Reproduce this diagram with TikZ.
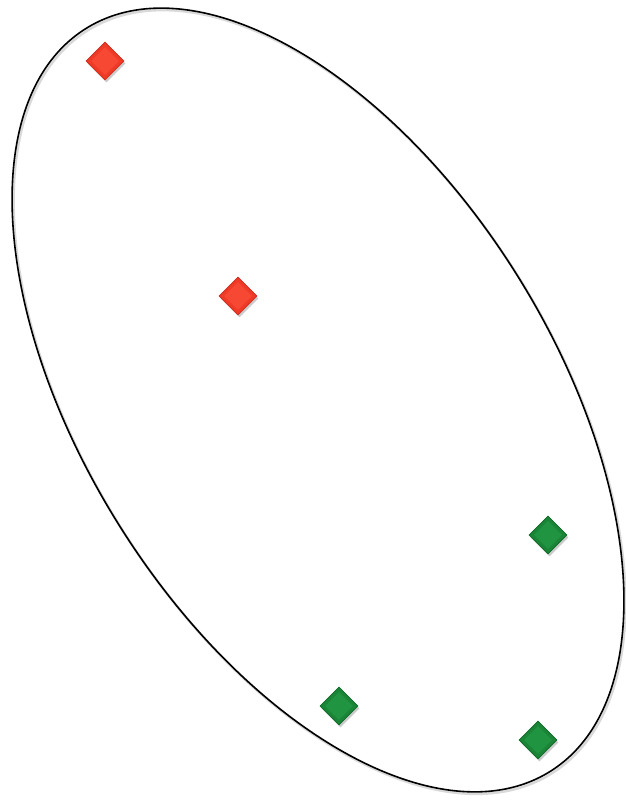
\documentclass[tikz,border=0pt]{standalone}
\usetikzlibrary{shapes.geometric,shadows}
\definecolor{redfill}{RGB}{238,58,38}
\definecolor{redlight}{RGB}{246,72,50}
\definecolor{rededge}{RGB}{205,45,28}
\definecolor{greenfill}{RGB}{26,132,55}
\definecolor{greenlight}{RGB}{32,148,64}
\definecolor{greenedge}{RGB}{15,105,40}
\tikzset{
  gem/.style={diamond, aspect=1, minimum size=38pt, inner sep=0pt, line width=0.8pt,
    drop shadow={shadow xshift=1.5pt, shadow yshift=-2.5pt, opacity=0.35, fill=black!60}},
  redgem/.style={gem, fill=redfill, draw=rededge},
  greengem/.style={gem, fill=greenfill, draw=greenedge},
  redcore/.style={diamond, aspect=1, minimum size=28pt, inner sep=0pt, fill=redlight},
  greencore/.style={diamond, aspect=1, minimum size=28pt, inner sep=0pt, fill=greenlight},
  ring/.style={line width=1.6pt, draw=black}
}
\begin{document}
\begin{tikzpicture}[x=1pt,y=1pt]
\useasboundingbox (0,0) rectangle (625,800);
% ellipse with faint shadow
\coordinate (c) at (318,400);
\coordinate (cs) at (319.5,398);
\draw[line width=2.5pt, draw=black!15, rotate around={-58:(cs)}] (cs) ellipse [x radius=438pt, y radius=235pt];
\draw[ring, rotate around={-58:(c)}] (c) ellipse [x radius=438pt, y radius=235pt];
% gems
\node[redgem] (r1) at (105,739) {};
\node[redcore] (r1c) at (r1) {};
\node[redgem] (r2) at (238,504) {};
\node[redcore] (r2c) at (r2) {};
\node[greengem] (g1) at (548,265) {};
\node[greencore] (g1c) at (g1) {};
\node[greengem] (g2) at (339,94) {};
\node[greencore] (g2c) at (g2) {};
\node[greengem] (g3) at (538,60) {};
\node[greencore] (g3c) at (g3) {};
\end{tikzpicture}
\end{document}
